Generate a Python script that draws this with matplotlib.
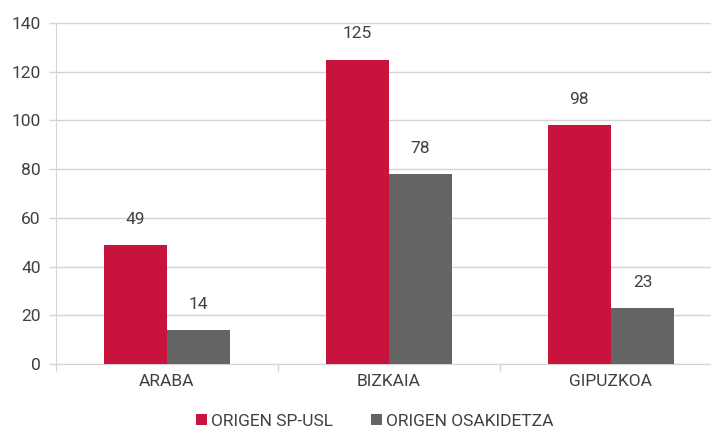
import numpy as np
import matplotlib.pyplot as plt
from matplotlib.ticker import FixedLocator

# ========== data ==========
categories = ["ARABA", "BIZKAIA", "GIPUZKOA"]
sp_usl = [49, 125, 98]
osakidetza = [14, 78, 23]
series_names = ["ORIGEN SP-USL", "ORIGEN OSAKIDETZA"]
y_ticks = [0, 20, 40, 60, 80, 100, 120, 140]

red = "#C8143C"
grey = "#646464"
text_col = "#404040"
grid_col = "#D4D4D4"
fs = 12.5

plt.rcParams['font.family'] = ['Roboto', 'DejaVu Sans']

fig = plt.figure(figsize=(7.11, 4.29), dpi=100)
ax = fig.add_axes([56 / 711, 65 / 429, 666 / 711, 341 / 429])

x = np.arange(len(categories))
w = 0.285
b1 = ax.bar(x - w / 2, sp_usl, w, color=red, label=series_names[0], zorder=3)
b2 = ax.bar(x + w / 2, osakidetza, w, color=grey, label=series_names[1], zorder=3)

for bars in (b1, b2):
    for r in bars:
        ax.annotate(f"{int(r.get_height())}", (r.get_x() + r.get_width() / 2, r.get_height()),
                    xytext=(0, 13), textcoords="offset points", ha="center", va="bottom",
                    fontsize=fs, color=text_col)

ax.set_xlim(-0.5, len(categories) - 0.5)
ax.set_ylim(0, 140)
ax.set_yticks(y_ticks)
ax.yaxis.grid(True, color=grid_col, linewidth=1, zorder=0)

ax.set_xticks(x)
ax.set_xticklabels(categories)
ax.xaxis.set_minor_locator(FixedLocator(np.arange(-0.5, len(categories), 1.0)))
ax.tick_params(axis="x", which="major", length=0, pad=7, labelsize=fs, labelcolor=text_col)
ax.tick_params(axis="x", which="minor", length=5, color=grid_col, width=1)
ax.tick_params(axis="y", length=5, color=grid_col, width=1, pad=6, labelsize=fs, labelcolor=text_col)

for s in ("top", "right"):
    ax.spines[s].set_visible(False)
ax.spines["left"].set_color(grid_col)
ax.spines["bottom"].set_color(grid_col)

fig.legend(handles=[b1, b2], loc="center", bbox_to_anchor=(375 / 711, 1 - 421 / 429),
           ncol=2, frameon=False, fontsize=fs, labelcolor=text_col,
           handlelength=0.6, handleheight=0.6, handletextpad=0.25, columnspacing=2.2)

fig.savefig("out.png", dpi=100)
